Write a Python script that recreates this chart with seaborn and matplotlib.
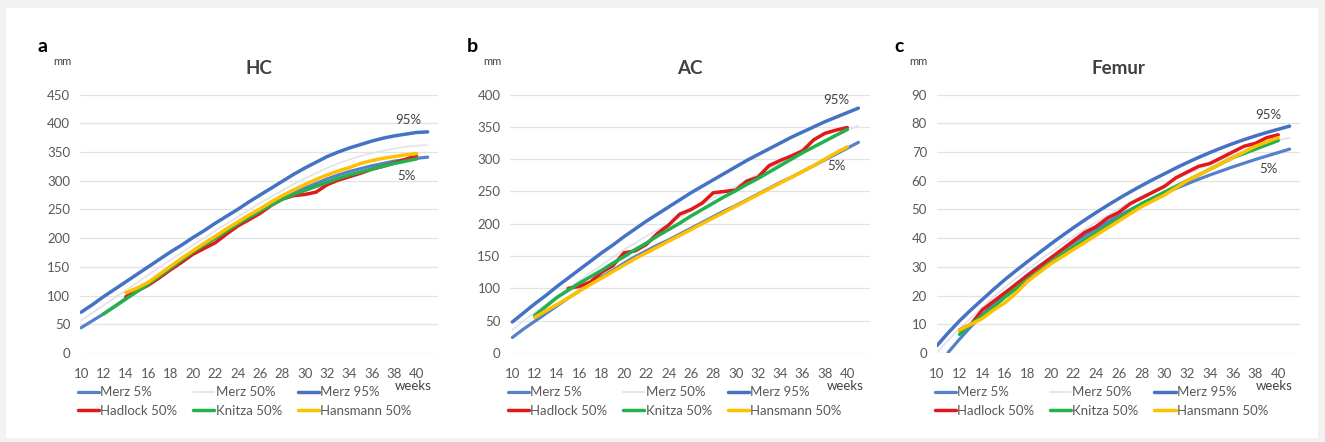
import numpy as np
import pandas as pd
import seaborn as sns
import matplotlib.pyplot as plt
from matplotlib.patches import Rectangle

sns.set_theme(style="white")
plt.rcParams['font.family'] = ['Lato', 'DejaVu Sans']

# ---- data ----
merz_weeks = list(range(10, 42))

hc_merz5 = [44, 56, 68, 81, 95, 108, 122, 135, 149, 162, 175, 188, 200, 212, 224, 236,
            247, 258, 268, 278, 287, 295, 303, 310, 316, 321, 326, 330, 334, 337, 339, 341]
hc_merz50 = [57, 70, 83, 96, 109, 122, 136, 149, 162, 175, 188, 200, 213, 225, 237, 249,
             261, 272, 283, 294, 304, 313, 322, 330, 337, 343, 348, 352, 356, 359, 361, 362]
hc_merz95 = [71, 84, 98, 111, 124, 137, 150, 163, 176, 188, 201, 213, 226, 238, 250, 263,
             275, 287, 299, 311, 322, 332, 342, 350, 357, 363, 369, 374, 378, 381, 384, 385]
hc_hadlock_weeks = list(range(14, 41))
hc_hadlock = [98, 108, 118, 131, 145, 158, 172, 182, 192, 207, 221, 232, 243, 257, 268,
              274, 276, 280, 293, 301, 307, 313, 320, 325, 331, 337, 344]
hc_knitza_weeks = list(range(12, 41))
hc_knitza = [68, 81, 94, 107, 120, 134, 148, 162, 176, 188, 200, 212, 225, 236, 247, 258,
             268, 276, 283, 290, 297, 304, 310, 315, 320, 325, 330, 334, 338]
hc_hansmann_weeks = list(range(14, 41))
hc_hansmann = [105, 113, 123, 137, 151, 165, 178, 191, 203, 216, 228, 240, 251, 263, 274,
               284, 293, 302, 310, 317, 323, 330, 335, 339, 342, 345, 347]

ac_merz5 = [24, 37, 49, 61, 73, 85, 96, 107, 118, 128, 139, 149, 158, 167, 175, 184,
            193, 202, 211, 220, 228, 237, 246, 255, 264, 272, 281, 290, 299, 308, 317, 326]
ac_merz50 = [36, 50, 62, 75, 88, 100, 112, 124, 136, 148, 160, 170, 181, 191, 200, 210,
             220, 230, 240, 249, 258, 268, 277, 286, 294, 303, 312, 320, 328, 336, 344, 352]
ac_merz95 = [48, 62, 76, 89, 103, 116, 129, 142, 155, 167, 180, 192, 204, 215, 226, 237,
             248, 258, 268, 278, 288, 298, 307, 316, 325, 334, 342, 350, 358, 365, 372, 379]
ac_hadlock_weeks = list(range(15, 41))
ac_hadlock = [100, 103, 110, 125, 135, 155, 158, 168, 185, 198, 215, 222, 232, 248, 250,
              252, 266, 272, 290, 298, 305, 313, 330, 340, 345, 349]
ac_knitza_weeks = list(range(12, 41))
ac_knitza = [58, 72, 86, 97, 108, 118, 128, 139, 149, 160, 170, 181, 191, 201, 212, 222,
             232, 242, 251, 261, 270, 280, 290, 300, 310, 319, 328, 337, 346]
ac_hansmann_weeks = list(range(12, 41))
ac_hansmann = [55, 65, 75, 85, 96, 106, 116, 126, 136, 146, 155, 164, 173, 182, 191, 200,
               209, 218, 227, 236, 245, 254, 263, 272, 281, 290, 300, 310, 319]

fl_merz5_weeks = list(range(11, 42))
fl_merz5 = [0.2, 4.8, 9.2, 13.3, 17.1, 20.7, 24.1, 27.3, 30.3, 33.1, 35.8, 38.4, 40.9,
            43.3, 45.6, 47.8, 49.9, 51.9, 53.8, 55.6, 57.3, 58.9, 60.5, 62.0, 63.4, 64.8,
            66.1, 67.4, 68.6, 69.8, 71]
fl_merz50 = [0, 4.5, 8.4, 12.2, 15.9, 19.5, 22.9, 26.1, 29.2, 32.2, 35.0, 37.8, 40.5, 43.1,
             45.6, 48.0, 50.3, 52.5, 54.6, 56.6, 58.6, 60.5, 62.3, 64.0, 65.7, 67.3, 68.8,
             70.3, 71.7, 73.0, 74.1, 75]
fl_merz95 = [2.5, 7, 11.2, 15, 18.6, 22.2, 25.6, 28.8, 31.9, 34.9, 37.9, 40.8, 43.6, 46.3,
             48.9, 51.4, 53.8, 56.1, 58.3, 60.4, 62.4, 64.4, 66.3, 68.1, 69.8, 71.4, 72.9,
             74.3, 75.6, 76.8, 77.9, 79]
fl_weeks = list(range(12, 41))
fl_hadlock = [8, 10, 15, 18, 21, 24, 27, 30, 33, 36, 39, 42, 44, 47, 49, 52, 54, 56, 58,
              61, 63, 65, 66, 68, 70, 72, 73, 75, 76]
fl_knitza = [6.5, 10, 13, 16, 19.5, 22.5, 25.5, 28.5, 31.5, 34.5, 37, 39.5, 42, 44.5, 47,
             49.5, 52, 54, 56, 58, 60, 62, 64, 66, 68, 69.5, 71, 72.5, 74]
fl_hansmann = [8, 10, 12, 15, 17.5, 21, 25, 28, 31, 33.5, 36, 38.5, 41, 43.5, 46, 48.5,
               51, 53, 55, 57.5, 60, 62, 64, 66, 68, 70, 72, 73.5, 75]

x_ticks = list(range(10, 41, 2))

BLUE = '#4472C4'
BLUE_LIGHT = '#5580CC'
GRAY = '#E2E2EA'
RED = '#E0191B'
GREEN = '#22B14C'
YELLOW = '#FFC000'
TXT = '#595959'

panels = [
    dict(letter='a', title='HC', rect=[0.0604, 0.2014, 0.270, 0.5905], xlim=(9.9, 41.9),
         ylim=(0, 450), yticks=range(0, 451, 50),
         merz=[(merz_weeks, hc_merz5), (merz_weeks, hc_merz50), (merz_weeks, hc_merz95)],
         other=[(hc_hadlock_weeks, hc_hadlock), (hc_knitza_weeks, hc_knitza),
                (hc_hansmann_weeks, hc_hansmann)],
         p95=(39.3, 405), p5=(39.1, 309)),
    dict(letter='b', title='AC', rect=[0.385, 0.2014, 0.2717, 0.5905], xlim=(9.8, 42.05),
         ylim=(0, 400), yticks=range(0, 401, 50),
         merz=[(merz_weeks, ac_merz5), (merz_weeks, ac_merz50), (merz_weeks, ac_merz95)],
         other=[(ac_hadlock_weeks, ac_hadlock), (ac_knitza_weeks, ac_knitza),
                (ac_hansmann_weeks, ac_hansmann)],
         p95=(39.0, 391), p5=(39.0, 290)),
    dict(letter='c', title='Femur', rect=[0.707, 0.2014, 0.274, 0.5905], xlim=(10, 41.9),
         ylim=(0, 90), yticks=range(0, 91, 10),
         merz=[(fl_merz5_weeks, fl_merz5), (merz_weeks, fl_merz50), (merz_weeks, fl_merz95)],
         other=[(fl_weeks, fl_hadlock), (fl_weeks, fl_knitza), (fl_weeks, fl_hansmann)],
         p95=(39.1, 83), p5=(39.1, 64)),
]

fig = plt.figure(figsize=(13.25, 4.42), dpi=100)
fig.patch.set_facecolor('#F2F2F2')
fig.patches.append(Rectangle((6 / 1325, 4 / 442), 1312 / 1325, 430 / 442,
                             transform=fig.transFigure, facecolor='white',
                             edgecolor='none', zorder=-10))

for p in panels:
    ax = fig.add_axes(p['rect'])
    ax.set_facecolor('none')
    # horizontal gridlines
    for yv in p['yticks']:
        ax.axhline(yv, color='#E3E3E3', lw=0.9, zorder=0)

    labels = ['Merz 5%', 'Merz 50%', 'Merz 95%']
    styles = [(BLUE_LIGHT, 2.3), (GRAY, 1.2), (BLUE, 2.5)]
    for (xs, ys), lab, (c, lw) in zip(p['merz'], labels, styles):
        sns.lineplot(x=xs, y=ys, ax=ax, color=c, lw=lw, label=lab, zorder=2)
    for (xs, ys), lab, c in zip(p['other'], ['Hadlock 50%', 'Knitza 50%', 'Hansmann 50%'],
                                [RED, GREEN, YELLOW]):
        sns.lineplot(x=xs, y=ys, ax=ax, color=c, lw=2.5, label=lab, zorder=3)

    ax.set_xlim(*p['xlim'])
    ax.set_ylim(p['ylim'][0], p['ylim'][1] + 0.01 * p['ylim'][1])
    ax.set_xticks(x_ticks)
    ax.set_yticks(list(p['yticks']))
    ax.tick_params(axis='x', labelsize=9.5, colors=TXT, length=0, pad=10.5)
    ax.tick_params(axis='y', labelsize=9.5, colors=TXT, length=0, pad=7)
    for s in ax.spines.values():
        s.set_visible(False)
    ax.set_xlabel('')
    ax.set_ylabel('')

    ax.text(p['p95'][0], p['p95'][1], '95%', fontsize=9.5, color='#404040',
            ha='center', va='center')
    ax.text(p['p5'][0], p['p5'][1], '5%', fontsize=9.5, color='#404040',
            ha='center', va='center')
    ax.text(0.5, 1.09, p['title'], transform=ax.transAxes, fontsize=13.5,
            fontweight='bold', color='#404040', ha='center', va='center')
    ax.text(-0.05, 1.115, 'mm', transform=ax.transAxes, fontsize=8, color='#404040',
            ha='center', va='center')
    ax.text(-0.105, 1.175, p['letter'], transform=ax.transAxes, fontsize=14,
            fontweight='bold', color='black', ha='center', va='center')
    ax.text(0.93, -0.125, 'weeks', transform=ax.transAxes, fontsize=9.5,
            color='#404040', ha='center', va='center')

    h, l = ax.get_legend_handles_labels()
    order = [0, 3, 1, 4, 2, 5]
    ax.legend([h[i] for i in order], [l[i] for i in order], ncol=3, frameon=False,
              loc='upper left', bbox_to_anchor=(-0.006, -0.128), fontsize=9.5,
              labelcolor=TXT, handlelength=1.6, handletextpad=0.1, columnspacing=1.2,
              labelspacing=0.5, borderaxespad=0, borderpad=0)

fig.savefig('out.png', dpi=100, facecolor=fig.get_facecolor())
